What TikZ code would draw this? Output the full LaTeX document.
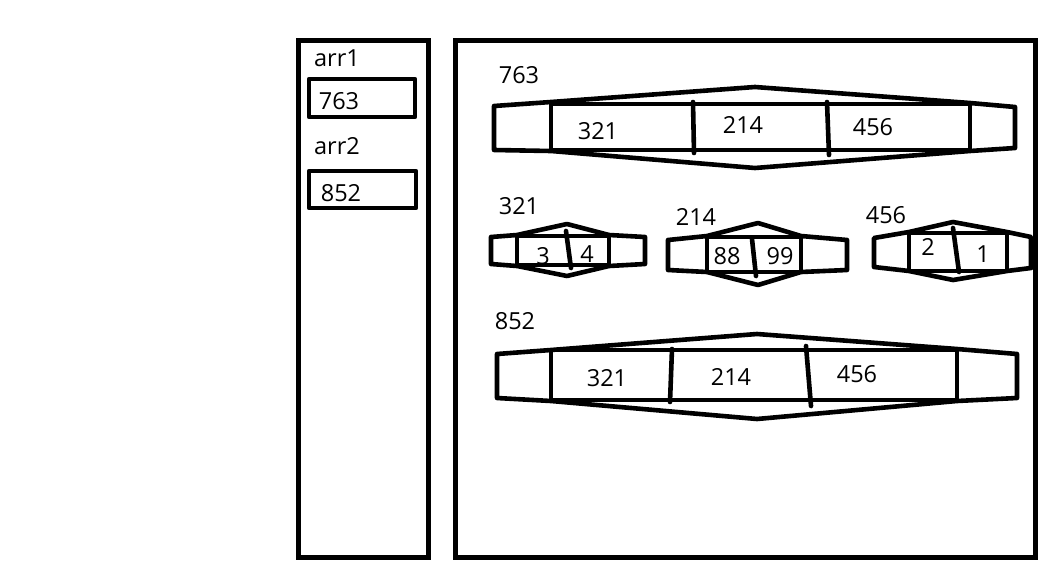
\documentclass[tikz,border=0pt]{standalone}
\usepackage{fontspec}
\setmainfont{Open Sans}
\begin{document}
\begin{tikzpicture}[x=1pt,y=-1pt,
  ln/.style={line width=4.6pt,line join=round,line cap=round},
  panel/.style={line width=5pt},
  txt/.style={inner sep=0pt,font=\fontsize{23.5}{28}\selectfont}]
\useasboundingbox (0,0) rectangle (1049,567);
% left panel
\draw[panel] (298,41) rectangle (428,557);
\node[txt] (arr1) at (337,58) {arr1};
\draw[ln] (309,79) rectangle (415,117);
\node[txt] (v763) at (339,101) {763};
\node[txt] (arr2) at (337,146) {arr2};
\draw[ln] (309,171) rectangle (416,208);
\node[txt] (v852) at (341,193) {852};
% right panel
\draw[panel] (455,41) rectangle (1035,557);
% 763
\node[txt] (l763) at (519,75) {763};
\draw[ln] (494,106) -- (551,102) -- (755,87) -- (970,103) -- (1015,107) -- (1015,148) -- (970,151) -- (755,168) -- (551,151) -- (494,150) -- cycle;
\draw[ln] (551,104) rectangle (970,150);
\draw[ln] (693,102) -- (694,153);
\draw[ln] (827,102) -- (829,155);
\node[txt] (a321) at (598,131) {321};
\node[txt] (a214) at (743,125) {214};
\node[txt] (a456) at (873,127) {456};
% 321
\node[txt] (l321) at (519,206) {321};
\draw[ln] (491,237) -- (517,235) -- (567,224) -- (609,235) -- (645,237) -- (645,264) -- (609,266) -- (567,276) -- (517,266) -- (491,264) -- cycle;
\draw[ln] (517,236) rectangle (609,265);
\draw[ln] (566,231) -- (571,268);
\node[txt] (b3) at (543,256) {3};
\node[txt] (b4) at (587,254) {4};
% 214
\node[txt] (l214) at (696,217) {214};
\draw[ln] (668,240) -- (707,236) -- (758,223) -- (801,236) -- (847,240) -- (847,270) -- (801,272) -- (758,285) -- (707,272) -- (668,270) -- cycle;
\draw[ln] (707,237) rectangle (801,272);
\draw[ln] (752,239) -- (756,276);
\node[txt] (c88) at (727,256) {88};
\node[txt] (c99) at (780,256) {99};
% 456
\node[txt] (l456) at (886,215) {456};
\draw[ln] (874,238) -- (909,232) -- (953,222) -- (1007,232) -- (1031,237) -- (1031,268) -- (1007,271) -- (953,280) -- (909,271) -- (874,267) -- cycle;
\draw[ln] (909,233) rectangle (1007,271);
\draw[ln] (953,228) -- (959,272);
\node[txt] (d2) at (928,247) {2};
\node[txt] (d1) at (983,254) {1};
% 852
\node[txt] (l852) at (515,321) {852};
\draw[ln] (497,354) -- (551,350) -- (757,334) -- (957,349) -- (1017,354) -- (1017,398) -- (957,401) -- (757,419) -- (551,401) -- (497,398) -- cycle;
\draw[ln] (551,350) rectangle (957,400);
\draw[ln] (672,349) -- (670,402);
\draw[ln] (806,346) -- (811,406);
\node[txt] (e321) at (607,378) {321};
\node[txt] (e214) at (731,377) {214};
\node[txt] (e456) at (857,374) {456};
\end{tikzpicture}
\end{document}
